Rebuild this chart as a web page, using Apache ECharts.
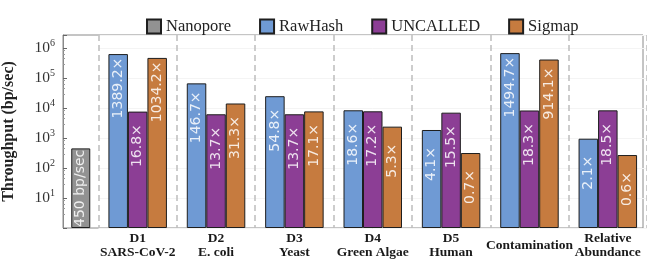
<!DOCTYPE html>
<html>
<head>
<meta charset="utf-8">
<title>Throughput</title>
<script src="https://cdn.jsdelivr.net/npm/echarts@6/dist/echarts.min.js"></script>
<style>
  html, body { margin: 0; padding: 0; background: #fff; }
  #chart { width: 647px; height: 261px; }
</style>
</head>
<body>
<div id="chart"></div>
<script>
// 数据（bp/sec），由图中标注倍数读出
const datasets = ['D1\nSARS-CoV-2', 'D2\nE. coli', 'D3\nYeast', 'D4\nGreen Algae',
  'D5\nHuman', 'Contamination', 'Relative\nAbundance'];
const nanopore = [450];
const nanoporeLabels = ['450 bp/sec'];
const rawhash = [625140, 66015, 24660, 8370, 1845, 672615, 945];
const uncalled = [7560, 6165, 6165, 7740, 6975, 8235, 8325];
const sigmap = [465390, 14085, 7695, 2385, 315, 411345, 270];
const rawhashLabels = ['1389.2×', '146.7×', '54.8×', '18.6×', '4.1×', '1494.7×', '2.1×'];
const uncalledLabels = ['16.8×', '13.7×', '13.7×', '17.2×', '15.5×', '18.3×', '18.5×'];
const sigmapLabels = ['1034.2×', '31.3×', '17.1×', '5.3×', '0.7×', '914.1×', '0.6×'];

const COLORS = {
  Nanopore: '#929292',
  RawHash: '#6f9ad4',
  UNCALLED: '#8c3e95',
  Sigmap: '#c67b3f'
};

const Y_MIN = 1;
const Y_MAX = 2.7e6;

// 柱内竖排标签
function barLabel(texts, distance) {
  return {
    show: true,
    position: 'insideTop',
    distance: distance,
    rotate: 90,
    align: 'center',
    verticalAlign: 'middle',
    fontFamily: 'DejaVu Sans',
    fontSize: 14,
    color: 'rgba(255,255,255,0.85)',
    formatter: p => texts[p.dataIndex]
  };
}

function barSeries(name, data, texts, axisIndex, width, distance) {
  return {
    name: name,
    type: 'bar',
    xAxisIndex: axisIndex,
    yAxisIndex: axisIndex,
    data: data,
    barWidth: width,
    barGap: '0%',
    itemStyle: { color: COLORS[name], borderColor: '#1e1e1e', borderWidth: 1 },
    label: barLabel(texts, distance)
  };
}

const logAxisBase = {
  type: 'log',
  logBase: 10,
  min: Y_MIN,
  max: Y_MAX
};

const chart = echarts.init(document.getElementById('chart'), null, { renderer: 'canvas' });

chart.setOption({
  animation: false,
  legend: {
    top: 13,
    left: 141,
    icon: 'rect',
    itemWidth: 14,
    itemHeight: 14,
    itemGap: 28,
    textStyle: { fontFamily: 'Liberation Serif', fontSize: 16.5, color: '#222' },
    data: ['Nanopore', 'RawHash', 'UNCALLED', 'Sigmap']
  },
  grid: [
    { left: 63, top: 35, width: 35.5, height: 193 },
    { left: 98.5, top: 35, width: 553, height: 193 },
    // 外框
    { left: 63, top: 35, width: 580, height: 193, show: true, borderColor: '#8a8a8a', borderWidth: 1, backgroundColor: 'transparent' }
  ],
  xAxis: [
    {
      type: 'category', gridIndex: 0, data: [''],
      axisLine: { show: false }, axisTick: { show: false }, axisLabel: { show: false }
    },
    {
      type: 'category', gridIndex: 1, data: datasets,
      axisLine: { show: false },
      axisTick: { show: false },
      axisLabel: {
        interval: 0,
        margin: 4,
        verticalAlign: 'top',
        fontFamily: 'Liberation Serif',
        fontWeight: 'bold',
        fontSize: 13.5,
        lineHeight: 14,
        color: '#1a1a1a',
        formatter: v => v.indexOf('\n') < 0 ? '{one|' + v + '}' : v,
        rich: {
          one: {
            fontFamily: 'Liberation Serif', fontWeight: 'bold', fontSize: 13.5,
            color: '#1a1a1a', lineHeight: 28
          }
        }
      },
      splitLine: {
        show: true,
        interval: 0,
        lineStyle: { color: '#bdbdbd', width: 1.5, type: [6, 4] }
      }
    }
  ],
  yAxis: [
    Object.assign({}, logAxisBase, {
      gridIndex: 0,
      name: 'Throughput (bp/sec)',
      nameLocation: 'middle',
      nameGap: 46,
      nameTextStyle: { fontFamily: 'Liberation Serif', fontWeight: 'bold', fontSize: 16, color: '#222' },
      axisLine: { show: true, lineStyle: { color: '#8a8a8a' } },
      axisTick: { show: true, inside: true, length: 4, lineStyle: { color: '#666' } },
      minorTick: { show: true, splitNumber: 5, length: 2, lineStyle: { color: '#999' } },
      splitLine: { show: false },
      axisLabel: {
        margin: 8,
        formatter: v => {
          const e = Math.log10(v);
          const n = Math.round(e);
          if (Math.abs(e - n) > 1e-6 || n < 1 || n > 6) return '';
          return '{b|10}{s|' + n + '}';
        },
        rich: {
          b: { fontFamily: 'Liberation Serif', fontSize: 15.5, color: '#333', lineHeight: 20 },
          s: { fontFamily: 'Liberation Serif', fontSize: 10, color: '#333', lineHeight: 12, verticalAlign: 'top' }
        }
      }
    }),
    Object.assign({}, logAxisBase, {
      gridIndex: 1,
      axisLine: { show: false },
      axisTick: { show: false },
      axisLabel: { show: false },
      splitLine: { show: true, lineStyle: { color: '#f4f4f4', width: 1 } }
    })
  ],
  series: [
    barSeries('Nanopore', nanopore, nanoporeLabels, 0, 19, 40),
    barSeries('RawHash', rawhash, rawhashLabels, 1, 19.5, 34),
    barSeries('UNCALLED', uncalled, uncalledLabels, 1, 19.5, 34),
    barSeries('Sigmap', sigmap, sigmapLabels, 1, 19.5, 34)
  ]
});
</script>
</body>
</html>
